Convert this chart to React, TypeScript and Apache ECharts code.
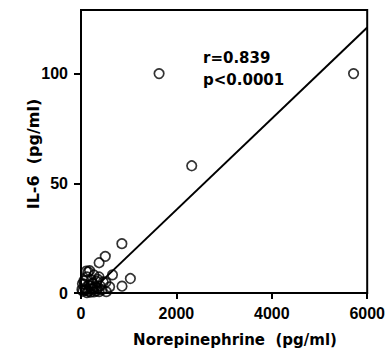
import React, { useEffect, useRef } from "react";
import * as echarts from "echarts";

const xTicks = [0, 2000, 4000, 6000];
const yTicks = [0, 50, 100];

// Norepinephrine (pg/ml)
const norepinephrine = [
  1637, 5714, 2321, 857, 509, 380, 1035, 660, 860, 600, 530,
  150, 110, 180, 272, 125, 380, 467, 330, 246, 160, 90, 40, 125, 230, 330,
  380, 405, 160, 272, 90, 195, 300, 520, 20, 60, 220, 350, 440, 70,
  30, 100, 200, 260, 320,
];
// IL-6 (pg/ml)
const il6 = [
  100, 100, 58, 22.5, 16.7, 13.8, 6.6, 8.3, 3.1, 2.8, 0.6,
  9.6, 10, 10.2, 8.2, 7.3, 7.3, 5, 5.3, 4.5, 3.6, 2.4, 0.8, 0.2, 1.8, 2.4,
  0.6, 3.2, 0.8, 0.5, 1.5, 3, 3, 4.8, 1.5, 5.5, 6, 6.2, 1.5, 4,
  4.2, 1.2, 0.4, 2.2, 1,
];

// regression line end points
const fitX = [430, 6000];
const fitY = [5.3, 121];

const FONT = "DejaVu Sans";

export default function App() {
  const ref = useRef<HTMLDivElement>(null);
  useEffect(() => {
    if (!ref.current) return;
    const chart = echarts.init(ref.current, null, { renderer: "svg" });
    chart.setOption({
      animation: false,
      backgroundColor: "#fff",
      grid: {
        left: 81,
        right: 20,
        top: 10,
        bottom: 63,
        show: true,
        borderColor: "#000",
        borderWidth: 2,
      },
      xAxis: {
        type: "value",
        min: 0,
        max: 6000,
        interval: 2000,
        splitLine: { show: false },
        axisLine: { show: true, lineStyle: { color: "#000", width: 2 } },
        axisTick: { show: true, length: 6, inside: false, lineStyle: { color: "#000", width: 2 }, customValues: xTicks },
        axisLabel: {
          customValues: xTicks,
          formatter: (v: number) => String(v),
          margin: 12,
          color: "#000",
          fontFamily: "Liberation Sans",
          fontWeight: "bold",
          fontSize: 16,
        },
      },
      yAxis: {
        type: "value",
        min: 0,
        max: 129,
        interval: 50,
        splitLine: { show: false },
        axisLine: { show: true, lineStyle: { color: "#000", width: 2 } },
        axisTick: { show: true, length: 7, inside: false, lineStyle: { color: "#000", width: 2 }, customValues: yTicks },
        axisLabel: {
          customValues: yTicks,
          formatter: (v: number) => String(v),
          margin: 13,
          color: "#000",
          fontFamily: "Liberation Sans",
          fontWeight: "bold",
          fontSize: 16,
        },
      },
      series: [
        {
          type: "scatter",
          data: norepinephrine.map((x, i) => [x, il6[i]]),
          symbol: "circle",
          symbolSize: 9.5,
          itemStyle: { color: "rgba(255,255,255,0)", borderColor: "#000", borderWidth: 1.7 },
          z: 3,
        },
        {
          type: "line",
          data: fitX.map((x, i) => [x, fitY[i]]),
          showSymbol: false,
          symbol: "none",
          lineStyle: { color: "#000", width: 2 },
          z: 2,
        },
      ],
      graphic: [
        {
          type: "text",
          left: 203,
          top: 50,
          style: {
            text: "r=0.839",
            fontFamily: FONT,
            fontWeight: "bold",
            fontSize: 15,
            fill: "#000",
          },
        },
        {
          type: "text",
          left: 203,
          top: 72,
          style: {
            text: "p<0.0001",
            fontFamily: FONT,
            fontWeight: "bold",
            fontSize: 15,
            fill: "#000",
          },
        },
        {
          type: "text",
          x: 235,
          y: 340,
          style: {
            text: "Norepinephrine  (pg/ml)",
            fontFamily: FONT,
            fontWeight: "bold",
            fontSize: 15,
            fill: "#000",
            align: "center",
            verticalAlign: "middle",
          },
        },
        {
          type: "text",
          x: 33,
          y: 154,
          rotation: Math.PI / 2,
          style: {
            text: "IL-6  (pg/ml)",
            fontFamily: FONT,
            fontWeight: "bold",
            fontSize: 16,
            fill: "#000",
            align: "center",
            verticalAlign: "middle",
          },
        },
      ],
    });
    return () => chart.dispose();
  }, []);
  return (
    <div
      ref={ref}
      style={{ position: "fixed", left: 0, top: 0, width: 388, height: 356 }}
    />
  );
}
